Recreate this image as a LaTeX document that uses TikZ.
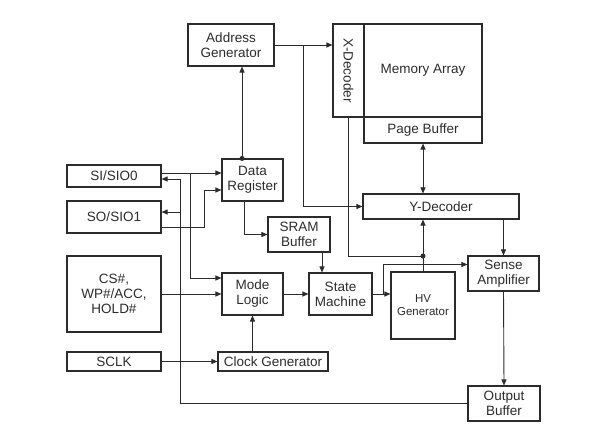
\documentclass[tikz,border=0pt]{standalone}
\usepackage{fontspec}
\setmainfont{Liberation Sans}
\usetikzlibrary{arrows.meta,positioning,calc}
\definecolor{ink}{HTML}{2B2B2B}

\begin{document}
\begin{tikzpicture}[x=1pt,y=-1pt,
          every node/.style={font=\fontsize{13.5}{15}\selectfont,text=ink},
          blk/.style={rectangle,draw=ink,line width=1.1pt,inner sep=1pt,align=center},
          wire/.style={draw=ink,line width=.9pt},
          arr/.style={wire,-{Triangle[length=6pt,width=5pt]}},
          dot/.style={circle,fill=ink,inner sep=0pt,minimum size=5pt}]
        \useasboundingbox (0,0) rectangle (593,426);
        \node[blk,minimum width=86,minimum height=42] (addr) at (231,45) {Address\\Generator};
        \node[blk,minimum width=31,minimum height=93] (xdec) at (348.5,70.5) {};
        \node[rotate=-90] at (xdec) {X-Decoder};
        \node[blk,minimum width=118,minimum height=93] (mem) at (423,70.5) {Memory Array};
        \node[blk,minimum width=118,minimum height=26] (page) at (423,130) {Page Buffer};

        \node[blk,minimum width=94,minimum height=22] (si) at (114,176) {SI/SIO0};
        \node[blk,minimum width=94,minimum height=32] (so) at (114,217) {SO/SIO1};
        \node[blk,minimum width=94,minimum height=76] (cs) at (114,294) {CS\#,\\WP\#/ACC,\\HOLD\#};
        \node[blk,minimum width=94,minimum height=19] (sclk) at (114,361.5) {SCLK};

        \node[blk,minimum width=61,minimum height=42] (data) at (252.5,180) {Data\\Register};
        \node[blk,minimum width=62,minimum height=35] (sram) at (299,234.5) {SRAM\\Buffer};
        \node[blk,minimum width=61,minimum height=42] (mode) at (252.5,294) {Mode\\Logic};
        \node[blk,minimum width=110,minimum height=19] (clock) at (273,361.5) {Clock Generator};
        \node[blk,minimum width=63,minimum height=42] (state) at (340.5,294) {State\\Machine};
        \node[blk,minimum width=64,minimum height=67,
          font=\fontsize{11.5}{13}\selectfont] (hv) at (423,305.5) {HV\\Generator};
        \node[blk,minimum width=156,minimum height=25] (ydec) at (441,206.5) {Y-Decoder};
        \node[blk,minimum width=71,minimum height=35] (sense) at (503.5,273.5) {Sense\\Amplifier};
        \node[blk,minimum width=72,minimum height=35] (outb) at (504,403.5) {Output\\Buffer};

        % bus taps
        \coordinate (dabus) at (242,0);
        \coordinate (ybus) at (303,45);
        \coordinate (tap) at (423,256);
        \coordinate (sojog) at (204,190);
        \coordinate (modebus) at (190,173);
        \coordinate (fb) at (180,0);
        \coordinate (sabr) at (383,294);

        \draw[arr] (data.north -| dabus) -- (addr.south -| dabus);
        \node[dot] at (data.north -| dabus) {};
        \draw[arr] (addr.east) -- (addr.east -| xdec.west);
        \draw[arr] (ybus) |- (ydec.west);
        \draw[wire] (xdec.south) |- (tap);
        \node[dot] at (tap) {};
        \draw[arr] (hv.north) -- (hv.north |- ydec.south);
        \draw[wire,{Triangle[length=6pt,width=5pt]}-{Triangle[length=6pt,width=5pt]}]
          (page.south) -- (page.south |- ydec.north);
        \draw[arr] (ydec.south -| sense.north) -- (sense.north);

        \draw[arr] ([yshift=3pt]si.east) -- ([yshift=3pt]si.east -| data.west);
        \draw[arr] ([yshift=-10pt]so.east) -| (sojog) -- (sojog -| data.west);
        \draw[arr] (modebus) |- ([yshift=16pt]mode.west);
        \draw[arr] (outb.west) -| ([yshift=-3pt]si.east -| fb) -- ([yshift=-3pt]si.east);
        \draw[arr] ([yshift=5pt]so.east -| fb) -- ([yshift=5pt]so.east);

        \draw[arr] ([xshift=-8.5pt]data.south) |- (sram.west);
        \draw[arr] ([xshift=23pt]sram.south) -- ([xshift=23pt]sram.south |- state.north);
        \draw[arr] (cs.east) -- (mode.west);
        \draw[arr] (mode.east) -- (state.west);
        \draw[arr] (state.east) -- (state.east -| hv.west);
        \draw[arr] (sabr) |- ([yshift=9pt]sense.west);
        \draw[arr] (sense.south) -- (outb.north);
        \draw[arr] (sclk.east) -- (clock.west);
        \draw[arr] (clock.north -| mode.south) -- (mode.south);
      \end{tikzpicture}
\end{document}
